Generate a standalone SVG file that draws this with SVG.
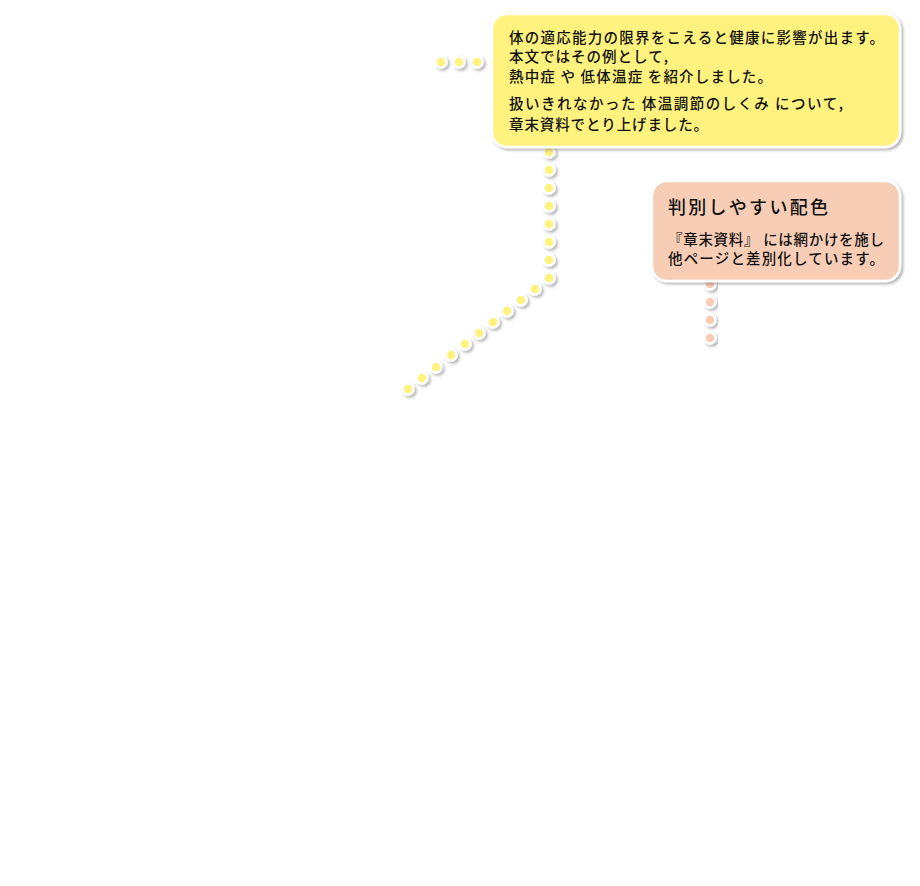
<svg xmlns="http://www.w3.org/2000/svg" width="920" height="886" viewBox="0 0 920 886">
<defs>
<filter id="sh" x="-10%" y="-10%" width="130%" height="130%"><feDropShadow dx="2" dy="2" stdDeviation="1.5" flood-color="#000" flood-opacity="0.3"/></filter>
<style>
.y{fill:#fff27f;stroke:#fff;stroke-width:2.5;filter:url(#sh)}
.s{fill:#f8cdb5;stroke:#fff;stroke-width:2.5;filter:url(#sh)}
text{font-family:"Noto Sans CJK JP",sans-serif;fill:#111;font-weight:500}
.t{font-size:14.5px}
.h{font-size:18px}
</style>
</defs>
<g id="connectors">
<g class="y">
<circle cx="441" cy="62" r="5.5"/><circle cx="459" cy="62" r="5.5"/><circle cx="477" cy="62" r="5.5"/>
<circle cx="549" cy="152" r="5.5"/><circle cx="549" cy="170" r="5.5"/><circle cx="549" cy="188" r="5.5"/><circle cx="549" cy="206" r="5.5"/><circle cx="549" cy="224" r="5.5"/><circle cx="549" cy="242" r="5.5"/><circle cx="549" cy="260" r="5.5"/><circle cx="549" cy="278" r="5.5"/>
<circle cx="535" cy="289" r="5.5"/><circle cx="521" cy="300" r="5.5"/><circle cx="507" cy="311" r="5.5"/><circle cx="493" cy="322" r="5.5"/><circle cx="479" cy="333" r="5.5"/><circle cx="465" cy="344" r="5.5"/><circle cx="451" cy="355" r="5.5"/><circle cx="436" cy="367" r="5.5"/><circle cx="422" cy="378" r="5.5"/><circle cx="408" cy="389" r="5.5"/>
</g>
<g class="s">
<circle cx="710" cy="284" r="5.5"/><circle cx="710" cy="302" r="5.5"/><circle cx="710" cy="320" r="5.5"/><circle cx="710" cy="338" r="5.5"/>
</g>
</g>
<g id="note1">
<rect class="y" x="492" y="14" width="408" height="133" rx="15"/>
<text class="t" x="509" y="43" textLength="375" lengthAdjust="spacing">体の適応能力の限界をこえると健康に影響が出ます。</text>
<text class="t" x="509" y="62" textLength="159" lengthAdjust="spacing">本文ではその例として,</text>
<text class="t" x="509" y="82" textLength="263" lengthAdjust="spacing">熱中症 や 低体温症 を紹介しました。</text>
<text class="t" x="509" y="109" textLength="334" lengthAdjust="spacing">扱いきれなかった 体温調節のしくみ について,</text>
<text class="t" x="509" y="130" textLength="199" lengthAdjust="spacing">章末資料でとり上げました。</text>
</g>
<g id="note2">
<rect class="s" x="652" y="181" width="248" height="100" rx="15"/>
<text class="h" x="668" y="214" textLength="160" lengthAdjust="spacing">判別しやすい配色</text>
<text class="t" x="668" y="245" textLength="216" lengthAdjust="spacing">『章末資料』 には網かけを施し</text>
<text class="t" x="668" y="264" textLength="216" lengthAdjust="spacing">他ページと差別化しています。</text>
</g>
</svg>
